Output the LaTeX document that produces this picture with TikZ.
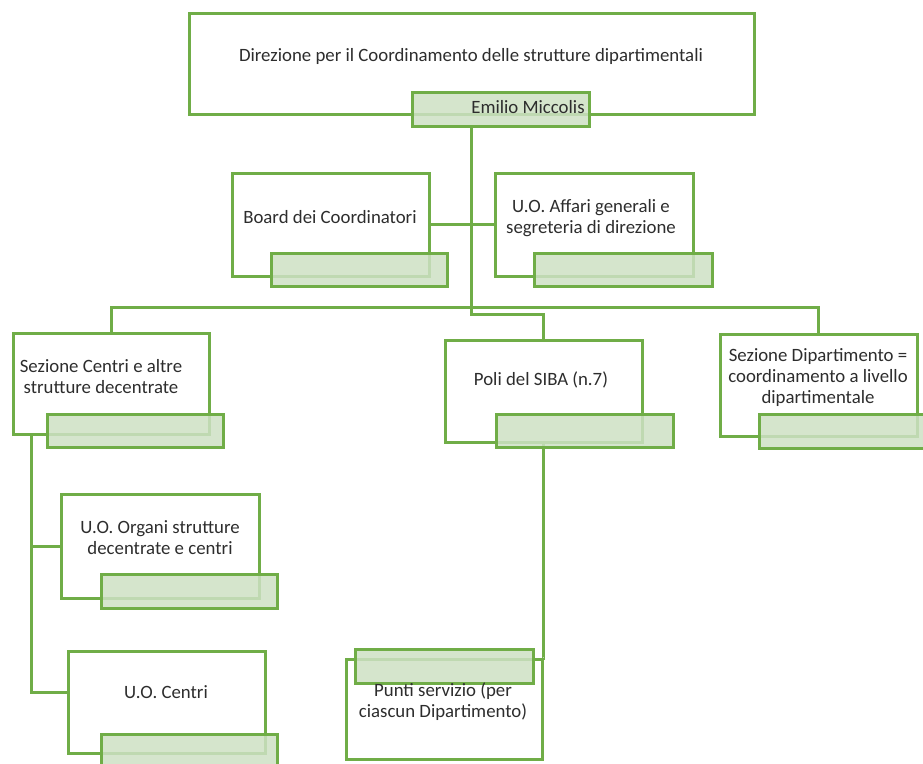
\documentclass[tikz,border=0pt]{standalone}
\usepackage{fontspec}
\setmainfont{Carlito}
\definecolor{lgreen}{RGB}{112,173,71}
\definecolor{gfill}{RGB}{206,225,196}
\definecolor{tgray}{RGB}{45,45,45}
\newcommand{\fs}{\fontsize{18.8}{21}\selectfont}
\begin{document}
\begin{tikzpicture}[x=1pt,y=-1pt]
\tikzset{
 wbox/.style={draw=lgreen, line width=2.8pt, fill=white, anchor=north west, inner sep=0pt},
 gbox/.style={draw=lgreen, line width=2.8pt, fill=gfill, fill opacity=0.85, anchor=north west, inner sep=0pt},
 lbl/.style={font=\fs, align=center, text=tgray, inner sep=0pt},
 conn/.style={draw=lgreen, line width=3pt},
}
\useasboundingbox (0,0) rectangle (923,763);
% white boxes
\node[wbox, minimum width=565pt, minimum height=101pt] (top) at (188,12) {};
\node[wbox, minimum width=197pt, minimum height=103pt] (board) at (231,172) {};
\node[wbox, minimum width=198pt, minimum height=103pt] (affari) at (494,172) {};
\node[wbox, minimum width=196pt, minimum height=101pt] (sezc) at (12,332) {};
\node[wbox, minimum width=197pt, minimum height=102pt] (poli) at (444,339) {};
\node[wbox, minimum width=197pt, minimum height=102pt] (sezd) at (719,333) {};
\node[wbox, minimum width=198pt, minimum height=104pt] (organi) at (60,493) {};
\node[wbox, minimum width=197pt, minimum height=102pt] (centri) at (67,650) {};
\node[wbox, minimum width=196pt, minimum height=100pt] (punti) at (345,658) {};
% connector helpers
\coordinate (spine) at (471,0);
\coordinate (hbar) at (0,307);
\coordinate (pbar) at (0,314);
\coordinate (lx) at (31,0);
\coordinate (cj) at (0,692);
% connectors
\draw[conn] (spine |- 0,125) -- (spine |- pbar) -- (poli.north |- pbar) -- (poli.north);
\draw[conn] (board.east) -- (affari.west);
\draw[conn] (sezc.north) -- (sezc.north |- hbar) -- (sezd.north |- hbar) -- (sezd.north);
\draw[conn] (lx |- sezc.south) -- (lx |- cj) -- (centri.west |- cj);
\draw[conn] (lx |- organi.west) -- (organi.west);
\draw[conn] (poli.south) -- (poli.south |- punti.north) -- (punti.north east);
% green boxes
\node[gbox, minimum width=177pt, minimum height=34pt] (emilio) at (411,91) {};
\node[gbox, minimum width=176pt, minimum height=33pt] (boardg) at (270,252) {};
\node[gbox, minimum width=178pt, minimum height=33pt] (affarig) at (533,252) {};
\node[gbox, minimum width=176pt, minimum height=33pt] (sezcg) at (46,413) {};
\node[gbox, minimum width=177pt, minimum height=33pt] (polig) at (495,413) {};
\node[gbox, minimum width=176pt, minimum height=34pt] (sezdg) at (758,413) {};
\node[gbox, minimum width=176pt, minimum height=34pt] (organig) at (100,573) {};
\node[gbox, minimum width=176pt, minimum height=34pt] (centrig) at (100,733) {};
\node[gbox, minimum width=178pt, minimum height=34pt] (puntig) at (354,648) {};
% texts
\node[lbl] (ttop) at (471,56) {Direzione per il Coordinamento delle strutture dipartimentali};
\node[lbl] (temilio) at (528,107) {Emilio Miccolis};
\node[lbl] (tboard) at (330,217) {Board dei Coordinatori};
\node[lbl] (taffari) at (591,218) {U.O. Affari generali e\\segreteria di direzione};
\node[lbl] (tsezc) at (101,377) {Sezione Centri e altre\\strutture decentrate};
\node[lbl] (tpoli) at (541,380) {Poli del SIBA (n.7)};
\node[lbl] (tsezd) at (818,378) {Sezione Dipartimento =\\coordinamento a livello\\dipartimentale};
\node[lbl] (torgani) at (160,538) {U.O. Organi strutture\\decentrate e centri};
\node[lbl] (tcentri) at (166,692) {U.O. Centri};
\node[lbl] (tpunti) at (443,702) {Punti servizio (per\\ciascun Dipartimento)};
\end{tikzpicture}
\end{document}
